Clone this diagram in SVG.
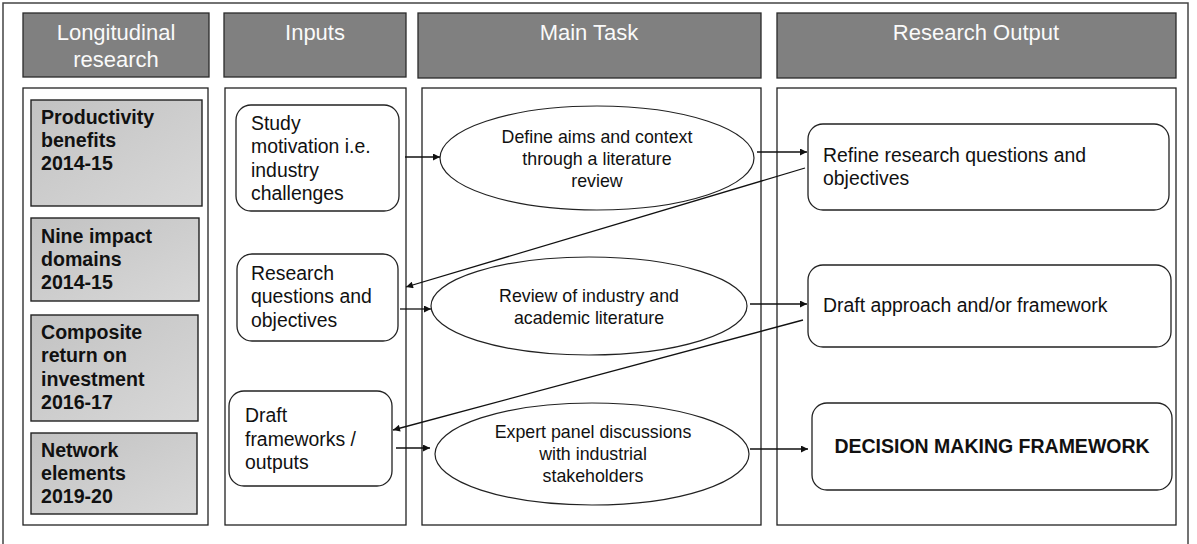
<svg xmlns="http://www.w3.org/2000/svg" width="1197" height="544" viewBox="0 0 1197 544">
<style>
.frame{fill:#fff;stroke:#444;stroke-width:1.5}
.col{fill:#fff;stroke:#222;stroke-width:1.3}
.hdr{fill:#808080;stroke:#2a2a2a;stroke-width:1.3}
.htxt{font-family:"Liberation Sans",Arial,sans-serif;font-size:22px;fill:#fafafa;text-anchor:middle}
.lbox{fill:url(#g);stroke:#222;stroke-width:1.4}
.ltxt{font-family:"Liberation Sans",Arial,sans-serif;font-size:19.6px;font-weight:bold;fill:#111}
.rr{fill:#fff;stroke:#222;stroke-width:1.3}
.el{fill:#fff;stroke:#222;stroke-width:1.2}
.txt{font-family:"Liberation Sans",Arial,sans-serif;font-size:19.4px;fill:#111}
.etxt{font-family:"Liberation Sans",Arial,sans-serif;font-size:17.8px;fill:#111;text-anchor:middle}
.btxt{font-family:"Liberation Sans",Arial,sans-serif;font-size:19.5px;font-weight:bold;fill:#111;text-anchor:middle}
.conn line{stroke:#111;stroke-width:1.3;marker-end:url(#ah)}
</style>
<defs>
<linearGradient id="g" x1="0" y1="0" x2="1" y2="1">
<stop offset="0" stop-color="#c2c2c2"/>
<stop offset="1" stop-color="#d8d8d8"/>
</linearGradient>
<marker id="ah" viewBox="0 0 10 10" refX="10" refY="5" markerWidth="9" markerHeight="7" markerUnits="userSpaceOnUse" orient="auto">
<path d="M0,0 L10,5 L0,10 z" fill="#111"/>
</marker>
</defs>
<rect width="1197" height="544" fill="#fff"/>
<rect class="frame" x="3" y="3" width="1185" height="560"/>

<g id="headers">
<rect class="hdr" x="23" y="13" width="186" height="64"/>
<text class="htxt" x="116" y="40">Longitudinal</text>
<text class="htxt" x="116" y="67">research</text>
<rect class="hdr" x="224" y="13" width="182" height="64"/>
<text class="htxt" x="315" y="40">Inputs</text>
<rect class="hdr" x="418" y="13" width="343" height="65"/>
<text class="htxt" x="589" y="40">Main Task</text>
<rect class="hdr" x="777" y="13" width="399" height="65"/>
<text class="htxt" x="976" y="40">Research Output</text>
</g>

<g id="columns">
<rect class="col" x="23" y="88" width="185" height="437"/>
<rect class="col" x="225" y="88" width="181" height="437"/>
<rect class="col" x="422" y="88" width="339" height="437"/>
<rect class="col" x="777" y="88" width="399" height="437"/>
</g>

<g id="lr1">
<rect class="lbox" x="31" y="100" width="171" height="106"/>
<text class="ltxt" x="41" y="124">Productivity</text>
<text class="ltxt" x="41" y="147">benefits</text>
<text class="ltxt" x="41" y="170">2014-15</text>
</g>
<g id="lr2">
<rect class="lbox" x="31" y="218" width="168" height="83"/>
<text class="ltxt" x="41" y="243">Nine impact</text>
<text class="ltxt" x="41" y="266">domains</text>
<text class="ltxt" x="41" y="289">2014-15</text>
</g>
<g id="lr3">
<rect class="lbox" x="31" y="315" width="167" height="106"/>
<text class="ltxt" x="41" y="339">Composite</text>
<text class="ltxt" x="41" y="362">return on</text>
<text class="ltxt" x="41" y="386">investment</text>
<text class="ltxt" x="41" y="409">2016-17</text>
</g>
<g id="lr4">
<rect class="lbox" x="31" y="433" width="166" height="81"/>
<text class="ltxt" x="41" y="457">Network</text>
<text class="ltxt" x="41" y="480">elements</text>
<text class="ltxt" x="41" y="503">2019-20</text>
</g>

<g id="in1">
<rect class="rr" x="236" y="105" width="163" height="106" rx="15"/>
<text class="txt" x="251" y="130">Study</text>
<text class="txt" x="251" y="153">motivation i.e.</text>
<text class="txt" x="251" y="177">industry</text>
<text class="txt" x="251" y="200">challenges</text>
</g>
<g id="in2">
<rect class="rr" x="237" y="254" width="161" height="87" rx="15"/>
<text class="txt" x="251" y="280">Research</text>
<text class="txt" x="251" y="303">questions and</text>
<text class="txt" x="251" y="327">objectives</text>
</g>
<g id="in3">
<rect class="rr" x="229" y="391" width="163" height="95" rx="15"/>
<text class="txt" x="245" y="422">Draft</text>
<text class="txt" x="245" y="446">frameworks /</text>
<text class="txt" x="245" y="469">outputs</text>
</g>

<g id="mt1">
<ellipse class="el" cx="597" cy="158" rx="157" ry="52"/>
<text class="etxt" x="597" y="143">Define aims and context</text>
<text class="etxt" x="597" y="165">through a literature</text>
<text class="etxt" x="597" y="187">review</text>
</g>
<g id="mt2">
<ellipse class="el" cx="589" cy="306" rx="158" ry="49"/>
<text class="etxt" x="589" y="302">Review of industry and</text>
<text class="etxt" x="589" y="324">academic literature</text>
</g>
<g id="mt3">
<ellipse class="el" cx="592" cy="454" rx="157" ry="51"/>
<text class="etxt" x="593" y="438">Expert panel discussions</text>
<text class="etxt" x="593" y="460">with industrial</text>
<text class="etxt" x="593" y="482">stakeholders</text>
</g>

<g id="ro1">
<rect class="rr" x="808" y="124" width="361" height="86" rx="15"/>
<text class="txt" x="823" y="162">Refine research questions and</text>
<text class="txt" x="823" y="185">objectives</text>
</g>
<g id="ro2">
<rect class="rr" x="808" y="265" width="363" height="82" rx="15"/>
<text class="txt" x="823" y="312">Draft approach and/or framework</text>
</g>
<g id="ro3">
<rect class="rr" x="812" y="403" width="360" height="87" rx="15"/>
<text class="btxt" x="992" y="453">DECISION MAKING FRAMEWORK</text>
</g>

<g id="connectors" class="conn">
<line x1="405" y1="157" x2="440" y2="157"/>
<line x1="757" y1="152" x2="807" y2="152"/>
<line x1="805" y1="168" x2="406" y2="287"/>
<line x1="400" y1="309" x2="431" y2="309"/>
<line x1="750" y1="304" x2="807" y2="304"/>
<line x1="803" y1="320" x2="393" y2="430"/>
<line x1="396" y1="448" x2="430" y2="448"/>
<line x1="750" y1="449" x2="808" y2="449"/>
</g>
</svg>
